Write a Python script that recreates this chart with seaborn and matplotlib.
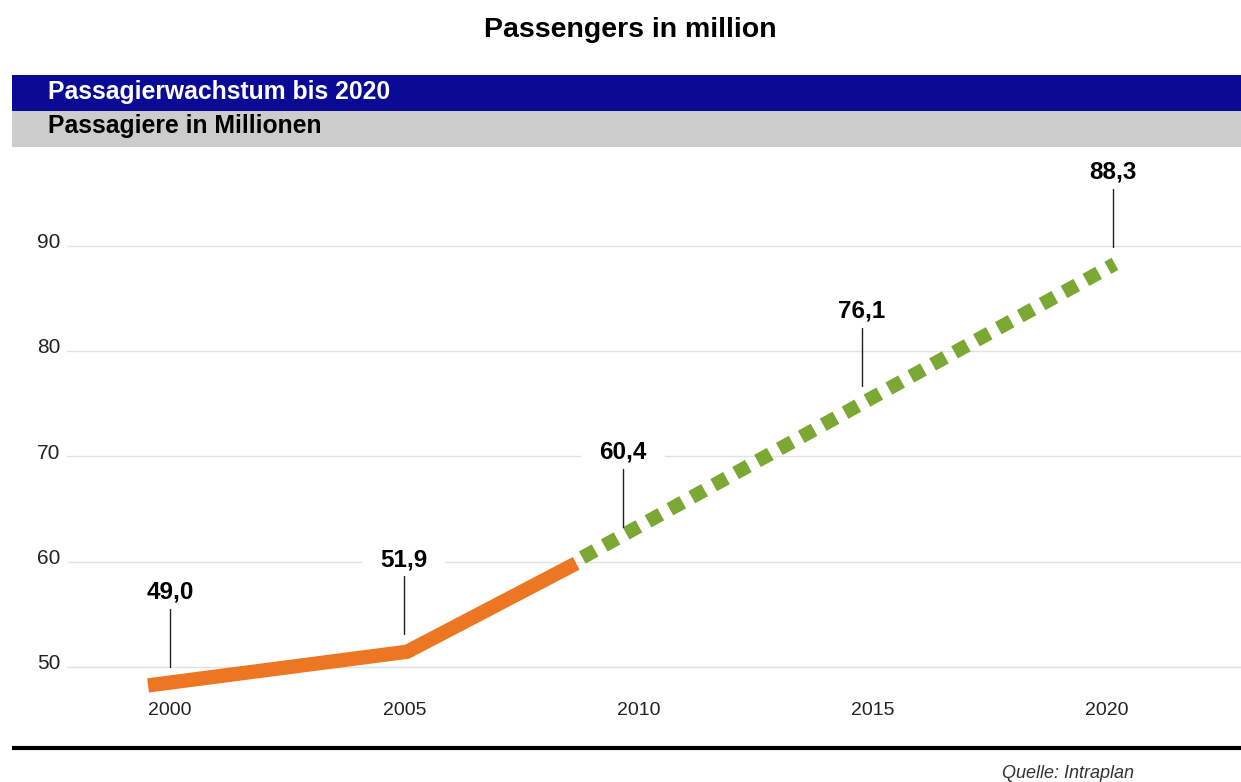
import matplotlib
matplotlib.use("Agg")
import matplotlib.pyplot as plt
import matplotlib.transforms as mtransforms
from matplotlib.patches import Rectangle
from matplotlib.lines import Line2D
import pandas as pd
import seaborn as sns

# ---------------- data ----------------
label_years = [2000, 2005, 2010, 2015, 2020]
passengers = [49.0, 51.9, 60.4, 76.1, 88.3]
value_labels = [f"{v:.1f}".replace(".", ",") for v in passengers]

# drawn line
hist_years = [1999.53, 2005.06, 2008.67]
hist_values = [48.25, 51.45, 59.85]
forecast_years = [2008.8, 2020.17]
forecast_values = [60.4, 88.3]

x_ticks = [2000, 2005, 2010, 2015, 2020]
y_ticks = [50, 60, 70, 80, 90]

# ---------------- layout ----------------
leader_dx = [0.0, -0.01, -0.33, -0.23, 0.13]
leader_bottom = [50.0, 53.1, 63.3, 76.7, 89.9]
leader_len = 5.5

W, H = 1241, 782
ORANGE = "#ec7621"
GREEN = "#7aa832"
BLUE = "#0a0a94"
GRAY = "#cccccc"

sns.set_theme(style="white")
plt.rcParams["font.family"] = ["Liberation Sans", "DejaVu Sans"]


def fx(px):
    return px / W


def fy(py):
    return 1 - py / H


fig = plt.figure(figsize=(W / 100, H / 100), dpi=100)

# title
fig.text(fx(630.5), fy(37), "Passengers in million", ha="center", va="baseline",
         fontsize=20.5, fontweight="bold", color="black")

# header bands
fig.add_artist(Rectangle((fx(12), fy(111)), (W - 12) / W, 36 / H,
                         transform=fig.transFigure, facecolor=BLUE, edgecolor="none"))
fig.add_artist(Rectangle((fx(12), fy(147)), (W - 12) / W, 36 / H,
                         transform=fig.transFigure, facecolor=GRAY, edgecolor="none"))
fig.text(fx(48), fy(98.5), "Passagierwachstum bis 2020", ha="left", va="baseline",
         fontsize=17.8, fontweight="bold", color="white")
fig.text(fx(48), fy(133.5), "Passagiere in Millionen", ha="left", va="baseline",
         fontsize=17.8, fontweight="bold", color="black")

# main axes
ax = fig.add_axes([fx(67), fy(690), (W - 67) / W, (690 - 150) / H])
ax.set_facecolor("white")

df_hist = pd.DataFrame({"year": hist_years, "value": hist_values})
df_fc = pd.DataFrame({"year": forecast_years, "value": forecast_values})

sns.lineplot(data=df_hist, x="year", y="value", color=ORANGE, linewidth=10.3,
             sort=False, ax=ax)
hist_line = ax.lines[-1]
hist_line.set_solid_capstyle("butt")
hist_line.set_solid_joinstyle("miter")
hist_line.set_clip_on(False)

sns.lineplot(data=df_fc, x="year", y="value", color=GREEN, linewidth=10,
             sort=False, ax=ax)
fc_line = ax.lines[-1]
fc_line.set_linestyle((0, (1.05, 0.75)))
fc_line.set_dash_capstyle("butt")
fc_line.set_clip_on(False)

ax.set_xlim(1997.80, 2022.86)
ax.set_ylim(47.815, 99.12)
ax.set_xticks(x_ticks)
ax.set_xticklabels([str(t) for t in x_ticks])
ax.set_yticks(y_ticks)
ax.set_yticklabels([str(t) for t in y_ticks])
ax.set_xlabel("")
ax.set_ylabel("")
ax.tick_params(axis="x", length=0, pad=8.5, labelsize=14, labelcolor="#222222")
ax.tick_params(axis="y", length=0, pad=5, labelsize=15, labelcolor="#222222")
for lab in ax.get_yticklabels():
    lab.set_transform(lab.get_transform() +
                      mtransforms.ScaledTranslation(0, 5.3 / 100, fig.dpi_scale_trans))
ax.set_axisbelow(True)
ax.yaxis.grid(True, color="#e2e2e2", linewidth=1)
ax.xaxis.grid(False)
for s in ax.spines.values():
    s.set_visible(False)

# labels with leader lines
texts = []
for yr, dx, b, txt in zip(label_years, leader_dx, leader_bottom, value_labels):
    x = yr + dx
    ax.plot([x, x], [b, b + leader_len], color="#222222", linewidth=1, zorder=3)
    t = ax.annotate(txt, xy=(x, b + leader_len), xytext=(0, 7.5),
                    textcoords="offset points", ha="center", va="baseline",
                    fontsize=17.5, fontweight="bold", color="black", zorder=4)
    texts.append(t)

# white backgrounds behind the value labels (interrupt gridlines)
fig.canvas.draw()
renderer = fig.canvas.get_renderer()
inv = ax.transData.inverted()
for t in texts:
    bb = t.get_window_extent(renderer)
    (x0, y0) = inv.transform((bb.x0 - 18, bb.y0 - 1))
    (x1, y1) = inv.transform((bb.x1 + 18, bb.y1 + 1))
    ax.add_patch(Rectangle((x0, y0), x1 - x0, y1 - y0, facecolor="white",
                           edgecolor="none", zorder=1.5))

# bottom rule and source
fig.add_artist(Line2D([fx(12), 1.0], [fy(748), fy(748)], transform=fig.transFigure,
                      color="black", linewidth=3, solid_capstyle="butt"))
fig.text(fx(1002), fy(781.5), "Quelle: Intraplan", ha="left", va="bottom",
         fontsize=13, fontstyle="italic", color="#333333")

fig.savefig("out.png", dpi=100, facecolor="white")
